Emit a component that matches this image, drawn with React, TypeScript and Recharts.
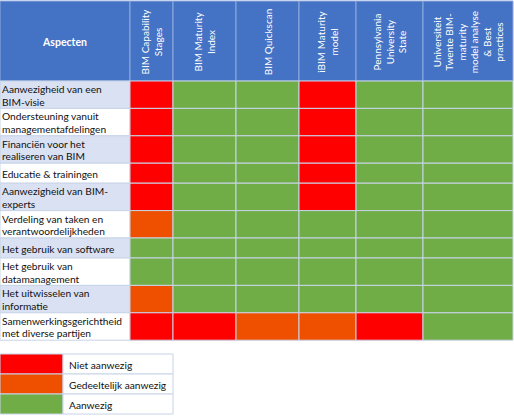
import React from 'react';
import { ComposedChart, XAxis, YAxis, ReferenceArea } from 'recharts';

// ---------- data ----------
const HEADER_TITLE = 'Aspecten';
const ASPECTS = [
  'Aanwezigheid van een\nBIM-visie',
  'Ondersteuning vanuit\nmanagementafdelingen',
  'Financiën voor het\nrealiseren van BIM',
  'Educatie & trainingen',
  'Aanwezigheid van BIM-\nexperts',
  'Verdeling van taken en\nverantwoordelijkheden',
  'Het gebruik van software',
  'Het gebruik van\ndatamanagement',
  'Het uitwisselen van\ninformatie',
  'Samenwerkingsgerichtheid\nmet diverse partijen',
];
const METHODS = [
  'BIM Capability\nStages',
  'BIM Maturity\nIndex',
  'BIM Quickscan',
  'iBIM Maturity\nmodel',
  'Pennsylvania\nUniversity\nState',
  'Universiteit\nTwente BIM-\nmaturity\nmodel analyse\n& Best\npractices',
];
// 0 = niet aanwezig, 1 = gedeeltelijk aanwezig, 2 = aanwezig
const bimCapabilityStages = [0, 0, 0, 0, 0, 1, 2, 2, 1, 0];
const bimMaturityIndex = [2, 2, 2, 2, 2, 2, 2, 2, 2, 0];
const bimQuickscan = [2, 2, 2, 2, 2, 2, 2, 2, 2, 1];
const ibimMaturityModel = [0, 0, 0, 0, 0, 2, 2, 2, 2, 1];
const pennStateModel = [2, 2, 2, 2, 2, 2, 2, 2, 2, 0];
const twenteModel = [2, 2, 2, 2, 2, 2, 2, 2, 2, 2];
const STATUS_COLUMNS = [bimCapabilityStages, bimMaturityIndex, bimQuickscan, ibimMaturityModel, pennStateModel, twenteModel];
const LEGEND_LABELS = ['Niet aanwezig', 'Gedeeltelijk aanwezig', 'Aanwezig'];

// ---------- layout & style ----------
const W = 514;
const H = 418;
const COL_WIDTHS = [130, 43, 63, 63, 57, 67, 90];
const HEADER_TOP = 1;
const HEADER_BOTTOM = 81;
const ONE_LINE_ROW = 20;
const TWO_LINE_ROW = 27.4;
const LEGEND_TOP = 354;
const LEGEND_ROW = 20;
const LEGEND_SWATCH = 63;
const LEGEND_TEXT = 110;
const STATUS_COLORS = ['#FF0000', '#EE5000', '#70AD47'];
const HEADER_BLUE = '#4472C4';
const LIGHT_BLUE = '#D9E1F2';
const GRID = '#C8D4E8';
const FONT = "Lato, 'Open Sans', sans-serif";
const BODY_SIZE = 10.2;

const colEdges: number[] = [0];
COL_WIDTHS.forEach((w, i) => colEdges.push(colEdges[i] + w));
const rowEdges: number[] = [HEADER_BOTTOM];
ASPECTS.forEach((a, i) => {
  const lines = a.split('\n').length;
  rowEdges.push(rowEdges[i] + (lines > 1 ? TWO_LINE_ROW : ONE_LINE_ROW));
});

const rowLabel = (text: string) => (props: any) => {
  const vb = props.viewBox || {};
  const lines = text.split('\n');
  const lh = 12.6;
  const cy = vb.y + vb.height / 2 + 0.5;
  return (
    <text x={vb.x + 2} y={cy} fontFamily={FONT} fontSize={BODY_SIZE} fill="#111" dominantBaseline="central">
      {lines.map((l, i) => (
        <tspan key={i} x={vb.x + 2} y={cy + (i - (lines.length - 1) / 2) * lh}>{l}</tspan>
      ))}
    </text>
  );
};

const headerLabel = (text: string) => (props: any) => {
  const vb = props.viewBox || {};
  const lines = text.split('\n');
  const lh = 12.4;
  const cx = vb.x + vb.width / 2;
  const cy = 42;
  return (
    <text transform={`rotate(-90, ${cx}, ${cy})`} x={cx} y={cy} fontFamily={FONT} fontSize={10} fill="#fff" textAnchor="middle" dominantBaseline="central">
      {lines.map((l, i) => (
        <tspan key={i} x={cx} y={cy + (i - (lines.length - 1) / 2) * lh}>{l}</tspan>
      ))}
    </text>
  );
};

const titleLabel = (props: any) => {
  const vb = props.viewBox || {};
  return (
    <text x={vb.x + vb.width / 2} y={42} fontFamily={FONT} fontSize={10.5} fontWeight="bold" fill="#fff" textAnchor="middle" dominantBaseline="central">
      {HEADER_TITLE}
    </text>
  );
};

const legendLabel = (text: string) => (props: any) => {
  const vb = props.viewBox || {};
  return (
    <text x={vb.x + 6} y={vb.y + vb.height / 2 + 0.5} fontFamily={FONT} fontSize={BODY_SIZE} fill="#111" dominantBaseline="central">
      {text}
    </text>
  );
};

export default function App() {
  const areas: React.ReactNode[] = [];
  // header
  areas.push(
    <ReferenceArea key="h0" x1={colEdges[0]} x2={colEdges[1]} y1={HEADER_TOP} y2={HEADER_BOTTOM}
      fill={HEADER_BLUE} fillOpacity={1} stroke="#8FAADC" strokeWidth={1} ifOverflow="visible" label={titleLabel} />
  );
  METHODS.forEach((m, j) => {
    areas.push(
      <ReferenceArea key={`h${j + 1}`} x1={colEdges[j + 1]} x2={colEdges[j + 2]} y1={HEADER_TOP} y2={HEADER_BOTTOM}
        fill={HEADER_BLUE} fillOpacity={1} stroke="#8FAADC" strokeWidth={1} ifOverflow="visible" label={headerLabel(m)} />
    );
  });
  // rows
  ASPECTS.forEach((a, i) => {
    areas.push(
      <ReferenceArea key={`r${i}`} x1={colEdges[0]} x2={colEdges[1]} y1={rowEdges[i]} y2={rowEdges[i + 1]}
        fill={i % 2 === 0 ? LIGHT_BLUE : '#FFFFFF'} fillOpacity={1} stroke={GRID} strokeWidth={1} ifOverflow="visible" label={rowLabel(a)} />
    );
    STATUS_COLUMNS.forEach((col, j) => {
      areas.push(
        <ReferenceArea key={`c${i}-${j}`} x1={colEdges[j + 1]} x2={colEdges[j + 2]} y1={rowEdges[i]} y2={rowEdges[i + 1]}
          fill={STATUS_COLORS[col[i]]} fillOpacity={1} stroke={GRID} strokeWidth={1} ifOverflow="visible" />
      );
    });
  });
  // legend
  LEGEND_LABELS.forEach((l, k) => {
    const y1 = LEGEND_TOP + k * LEGEND_ROW;
    areas.push(
      <ReferenceArea key={`ls${k}`} x1={0} x2={LEGEND_SWATCH} y1={y1} y2={y1 + LEGEND_ROW}
        fill={STATUS_COLORS[k]} fillOpacity={1} stroke={GRID} strokeWidth={1} ifOverflow="visible" />
    );
    areas.push(
      <ReferenceArea key={`lt${k}`} x1={LEGEND_SWATCH} x2={LEGEND_SWATCH + LEGEND_TEXT} y1={y1} y2={y1 + LEGEND_ROW}
        fill="#FFFFFF" fillOpacity={1} stroke={GRID} strokeWidth={1} ifOverflow="visible" label={legendLabel(l)} />
    );
  });

  return (
    <div style={{ position: 'absolute', left: 0, top: 0, width: W, height: H, background: '#fff' }}>
      <ComposedChart width={W} height={H} margin={{ top: 0, right: 0, bottom: 0, left: 0 }} data={[]}>
        <XAxis type="number" dataKey="x" domain={[0, W]} hide allowDataOverflow />
        <YAxis type="number" dataKey="y" domain={[0, H]} reversed hide allowDataOverflow />
        {areas}
      </ComposedChart>
    </div>
  );
}
